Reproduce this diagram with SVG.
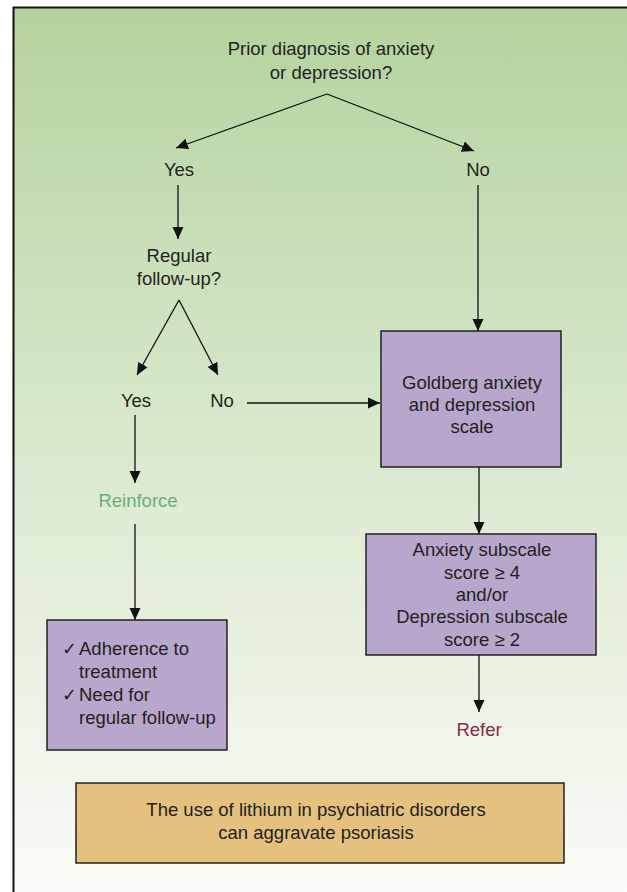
<svg xmlns="http://www.w3.org/2000/svg" width="627" height="892" viewBox="0 0 627 892">
<defs>
<linearGradient id="bg" x1="0" y1="0" x2="0" y2="1">
<stop offset="0" stop-color="#b4d29e"/>
<stop offset="0.45" stop-color="#d8e7cb"/>
<stop offset="1" stop-color="#fbfcfa"/>
</linearGradient>
<marker id="ah" viewBox="0 0 12 12" refX="12" refY="6" markerWidth="12" markerHeight="12" markerUnits="userSpaceOnUse" orient="auto">
<path d="M0,0.5 L12,6 L0,11.5 Z" fill="#111"/>
</marker>
<style>
text{font-family:"Liberation Sans",Arial,sans-serif;font-size:18.5px;fill:#231f20;text-anchor:middle}
.box{fill:#b7a7cd;stroke:#222;stroke-width:1.5}
.note{fill:#e4c17e;stroke:#222;stroke-width:1.5}
.c line{stroke:#111;stroke-width:1.3;fill:none;marker-end:url(#ah)}
.l{text-anchor:start}
.ck{text-anchor:start;font-size:18px;font-family:"DejaVu Sans",sans-serif}
</style>
</defs>
<rect x="0" y="0" width="627" height="892" fill="#ffffff"/>
<rect x="13.5" y="7.5" width="640" height="900" fill="url(#bg)" stroke="#111" stroke-width="2"/>

<g class="c" id="connectors">
<line x1="327" y1="94" x2="176" y2="148"/>
<line x1="327" y1="94" x2="474" y2="151"/>
<line x1="178" y1="185" x2="178" y2="239"/>
<line x1="478" y1="185" x2="478" y2="331"/>
<line x1="179" y1="300" x2="137" y2="375"/>
<line x1="179" y1="300" x2="218" y2="375"/>
<line x1="247" y1="403" x2="380" y2="403"/>
<line x1="135" y1="415" x2="135" y2="483"/>
<line x1="135" y1="524" x2="135" y2="620"/>
<line x1="479" y1="467" x2="479" y2="534"/>
<line x1="479" y1="655" x2="479" y2="712"/>
</g>

<g id="n-prior">
<text x="331" y="55">Prior diagnosis of anxiety</text>
<text x="331" y="79">or depression?</text>
</g>
<g id="n-yes1"><text x="179" y="176">Yes</text></g>
<g id="n-no1"><text x="478" y="176">No</text></g>
<g id="n-regular">
<text x="179" y="262">Regular</text>
<text x="179" y="285">follow-up?</text>
</g>
<g id="n-yes2"><text x="136" y="407">Yes</text></g>
<g id="n-no2"><text x="222" y="407">No</text></g>
<g id="n-reinforce"><text x="138" y="507" style="fill:#6aae80">Reinforce</text></g>
<g id="n-adherence">
<rect class="box" x="47" y="620" width="180" height="130"/>
<text class="ck" x="62" y="655">✓</text>
<text class="l" x="79" y="655">Adherence to</text>
<text class="l" x="79" y="678">treatment</text>
<text class="ck" x="62" y="701">✓</text>
<text class="l" x="79" y="701">Need for</text>
<text class="l" x="79" y="724">regular follow-up</text>
</g>
<g id="n-goldberg">
<rect class="box" x="381" y="331" width="180" height="136"/>
<text x="472" y="389">Goldberg anxiety</text>
<text x="472" y="411">and depression</text>
<text x="472" y="433">scale</text>
</g>
<g id="n-subscale">
<rect class="box" x="366" y="534" width="230" height="121"/>
<text x="482" y="556">Anxiety subscale</text>
<text x="482" y="579">score ≥ 4</text>
<text x="482" y="601">and/or</text>
<text x="482" y="623">Depression subscale</text>
<text x="482" y="646">score ≥ 2</text>
</g>
<g id="n-refer"><text x="479" y="736" style="fill:#8a2a48">Refer</text></g>
<g id="n-note">
<rect class="note" x="76" y="783" width="488" height="80"/>
<text x="316" y="816">The use of lithium in psychiatric disorders</text>
<text x="316" y="839">can aggravate psoriasis</text>
</g>
</svg>
